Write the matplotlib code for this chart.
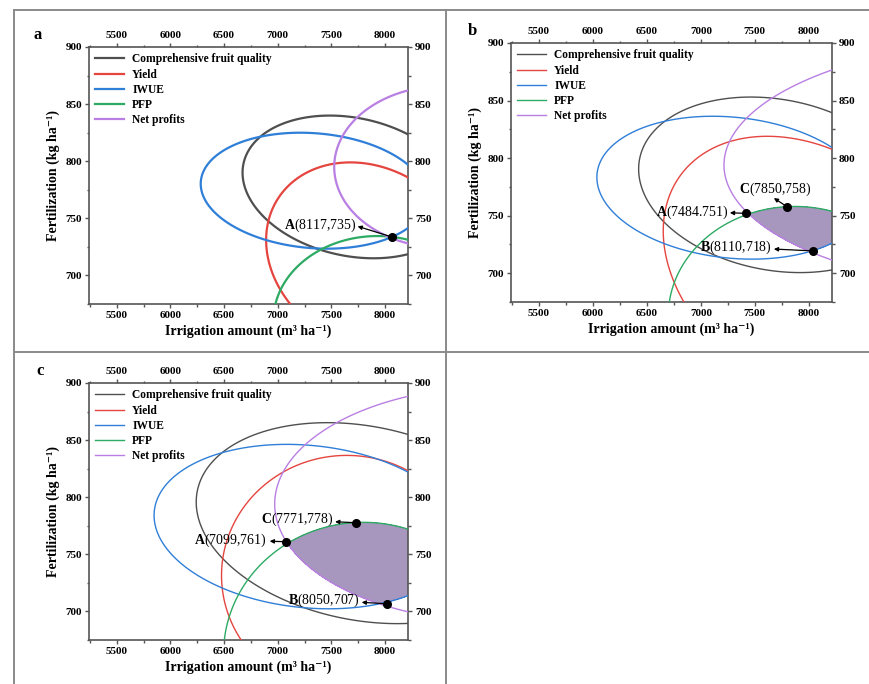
import numpy as np
import matplotlib
matplotlib.use("Agg")
import matplotlib.pyplot as plt  # noqa: E402
from matplotlib.lines import Line2D  # noqa: E402
from matplotlib.ticker import MultipleLocator  # noqa: E402

plt.rcParams["font.family"] = ["Liberation Serif", "DejaVu Serif"]
plt.rcParams["font.weight"] = "bold"
plt.rcParams["mathtext.fontset"] = "custom"
plt.rcParams["mathtext.rm"] = "Liberation Serif"
plt.rcParams["mathtext.bf"] = "Liberation Serif:bold"

# ---------------------------------------------------------------------------
# Data
# ---------------------------------------------------------------------------
NAMES = ["Comprehensive fruit quality", "Yield", "IWUE", "PFP", "Net profits"]

# contour ellipses, one per index:
# (centre x, centre y, x half-width, y tilt, y half-height)
ELL_A = [(7690, 777.5, 1018, -12.5, 61.2),
         (7851, 716.0, 959, -15.0, 81.6),
         (7335, 774.2, 1053, -6.0, 50.4),
         (7930, 660.5, 970, 0.0, 74.0),
         (8557, 795.0, 1030, 0.0, 71.0)]
ELL_B = [(7691, 776.8, 1268, -13.7, 75.0),
         (8025, 701.8, 1374, -35.0, 111.8),
         (7291, 774.3, 1255, -9.0, 61.4),
         (7870, 663.0, 1172, 0.0, 95.0),
         (10164, 794.0, 2950, 0.0, 110.0)]
ELL_C = [(7790, 777.3, 1550, -18.5, 86.0),
         (7644, 731.5, 1168, 0.0, 105.1),
         (7280, 774.3, 1433, -9.8, 71.3),
         (7800, 663.0, 1305, 0.0, 115.0),
         (9052, 794.0, 2080, 0.0, 103.0)]

# optimum points (drawn position) and their printed labels
PT_LETTERS_A = ["A"]
PT_TEXT_A = ["(8117,735)"]
PT_X_A = [8068]
PT_Y_A = [733.6]

PT_LETTERS_B = ["A", "C", "B"]
PT_TEXT_B = ["(7484.751)", "(7850,758)", "(8110,718)"]
PT_X_B = [7421, 7799, 8036]
PT_Y_B = [752.0, 757.7, 719.4]

PT_LETTERS_C = ["A", "C", "B"]
PT_TEXT_C = ["(7099,761)", "(7771,778)", "(8050,707)"]
PT_X_C = [7080, 7727, 8016]
PT_Y_C = [761.0, 777.7, 706.7]

# ---------------------------------------------------------------------------
# Style / layout
# ---------------------------------------------------------------------------
W, H = 869, 684
COLORS = ["#4f4f4f", "#e5453f", "#2f7fd8", "#2daa63", "#b97fe2"]
SHADE = "#a797be"
SPINE = "#555555"
BORDER = "#8a8a8a"
XLIM = (5240, 8215)
YLIM = (675, 900)

# label anchor (x, y, ha) and arrow head (x, y), data coords
LAYOUT_A = [((7737, 744), "right", (7745, 743))]
LAYOUT_B = [((7261, 752.8), "right", (7268, 752.5)),
            ((7691, 773.0), "center", (7676, 765.3)),
            ((7661, 722.3), "right", (7676, 721.0))]
LAYOUT_C = [((6900, 762.2), "right", (6925, 761.5)),
            ((7520, 780.6), "right", (7535, 778.5)),
            ((7768, 709.6), "right", (7783, 708.0))]


def px_axes(fig, left, top, right, bottom):
    return fig.add_axes([left / W, 1 - bottom / H,
                         (right - left) / W, (bottom - top) / H])


def draw_panel(ax, ells, lw, shade, letters, texts, xs, ys, layout):
    gx = np.linspace(5150, 8300, 900)
    gy = np.linspace(640, 930, 600)
    X, Y = np.meshgrid(gx, gy)
    fields = []
    for (cx, cy, p, q, r), c in zip(ells, COLORS):
        u = (X - cx) / p
        F = u ** 2 + ((Y - cy - q * u) / r) ** 2
        fields.append(F)
        ax.contour(X, Y, F, levels=[1], colors=[c], linewidths=lw, zorder=3)
    if shade:
        ax.contourf(X, Y, np.max(fields, axis=0), levels=[0, 1],
                    colors=[SHADE], zorder=2)

    for let, txt, x, y, ((tx, ty), ha, (hx, hy)) in zip(
            letters, texts, xs, ys, layout):
        ax.annotate("", xy=(hx, hy), xytext=(x, y),
                    arrowprops=dict(arrowstyle="-|>", color="black", lw=0.9,
                                    mutation_scale=6, shrinkA=0, shrinkB=0),
                    zorder=5)
        ax.plot([x], [y], "o", color="black", ms=5.5, zorder=6)
        ax.text(tx, ty, r"$\mathbf{%s}$%s" % (let, txt), ha=ha, va="center",
                fontsize=10, fontweight="normal", zorder=6)

    ax.set_xlim(*XLIM)
    ax.set_ylim(*YLIM)
    ax.xaxis.set_major_locator(MultipleLocator(500))
    ax.xaxis.set_minor_locator(MultipleLocator(250))
    ax.yaxis.set_major_locator(MultipleLocator(50))
    ax.yaxis.set_minor_locator(MultipleLocator(25))
    ax.tick_params(which="both", direction="out", top=True, right=True,
                   labeltop=True, labelright=True, labelsize=8,
                   color=SPINE, width=1.0)
    ax.tick_params(which="major", length=3, pad=2)
    ax.tick_params(which="minor", length=1.8)
    for s in ax.spines.values():
        s.set_color(SPINE)
        s.set_linewidth(1.2)
    ax.set_xlabel("Irrigation amount (m³ ha⁻¹)", fontsize=10,
                  fontweight="bold", labelpad=3)
    ax.set_ylabel("Fertilization (kg ha⁻¹)", fontsize=10,
                  fontweight="bold", labelpad=4)

    handles = [Line2D([], [], color=c, lw=lw) for c in COLORS]
    ax.legend(handles, NAMES, loc="upper left", bbox_to_anchor=(0.0, 1.0),
              frameon=False, fontsize=8.3, handlelength=2.5,
              handletextpad=0.7, labelspacing=0.28, borderpad=0.35,
              borderaxespad=0.2)


fig = plt.figure(figsize=(W / 100, H / 100), dpi=100)

# table-like frame
for (x0, y0, x1, y1) in [(14, 10, W, 10), (14, 352, W, 352),
                         (14, 10, 14, H), (446, 10, 446, H)]:
    fig.add_artist(Line2D([x0 / W, x1 / W], [1 - y0 / H, 1 - y1 / H],
                          color=BORDER, lw=1.4, transform=fig.transFigure))

ax_a = px_axes(fig, 89, 47, 408, 304)
draw_panel(ax_a, ELL_A, 1.6, False, PT_LETTERS_A, PT_TEXT_A,
           PT_X_A, PT_Y_A, LAYOUT_A)
ax_b = px_axes(fig, 511, 43, 832, 302)
draw_panel(ax_b, ELL_B, 1.0, True, PT_LETTERS_B, PT_TEXT_B,
           PT_X_B, PT_Y_B, LAYOUT_B)
ax_c = px_axes(fig, 89, 383, 408, 640)
draw_panel(ax_c, ELL_C, 1.0, True, PT_LETTERS_C, PT_TEXT_C,
           PT_X_C, PT_Y_C, LAYOUT_C)

for lab, (x, y) in zip(["a", "b", "c"], [(38, 35), (472, 31), (40, 371)]):
    fig.text(x / W, 1 - y / H, lab, fontsize=12, fontweight="bold",
             ha="center", va="center")

fig.savefig("out.png", dpi=100)
